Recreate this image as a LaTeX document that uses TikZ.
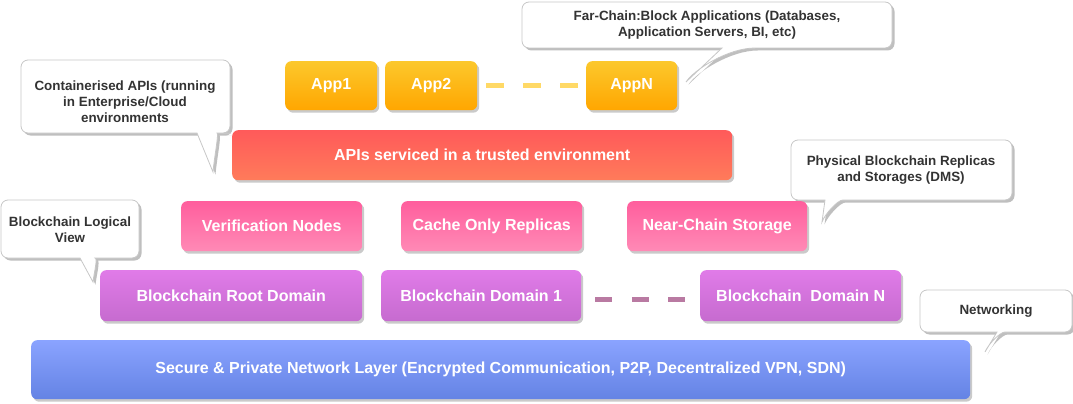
\documentclass[tikz,border=0pt]{standalone}
\usepackage{fontspec}
\setmainfont{Liberation Sans}
\usetikzlibrary{shadows}
\definecolor{appTop}{HTML}{FCC82C}
\definecolor{appBot}{HTML}{FFA600}
\definecolor{apiTop}{HTML}{FF5A5A}
\definecolor{apiBot}{HTML}{FF7B5A}
\definecolor{pinkTop}{HTML}{FF5E9D}
\definecolor{pinkBot}{HTML}{FF8AB6}
\definecolor{purTop}{HTML}{E07BE8}
\definecolor{purBot}{HTML}{C66BCF}
\definecolor{bluTop}{HTML}{8AA3FF}
\definecolor{bluBot}{HTML}{6483E4}
\definecolor{yDash}{HTML}{FFD966}
\definecolor{pDash}{HTML}{B97AA2}
\definecolor{cText}{HTML}{333333}
\newcommand\balloon[8]{%
  \fill[black!25,shift={(2.5pt,-2.5pt)}] (#5,#4) [rounded corners=7pt] -- (#1,#4) -- (#1,#2) -- (#3,#2) -- (#3,#4) -- (#8,#4) [sharp corners] .. controls ({#8-0.45*(#8-#6)},#4) and ({#6+0.1*(#8-#6)},{#7-0.35*(#7-#4)}) .. (#6,#7) -- cycle;
  \filldraw[fill=white,draw=black!22,line width=0.8pt] (#5,#4) [rounded corners=7pt] -- (#1,#4) -- (#1,#2) -- (#3,#2) -- (#3,#4) -- (#8,#4) [sharp corners] .. controls ({#8-0.45*(#8-#6)},#4) and ({#6+0.1*(#8-#6)},{#7-0.35*(#7-#4)}) .. (#6,#7) -- cycle;
}
\tikzset{
  box/.style={rectangle, rounded corners=6pt, anchor=north west, inner sep=0pt,
    text=white, font=\bfseries\fontsize{16}{18}\selectfont,
    drop shadow={shadow xshift=2pt, shadow yshift=-2.5pt, opacity=0.35, fill=black!60}},
  appbox/.style={box, top color=appTop, bottom color=appBot},
  apibox/.style={box, top color=apiTop, bottom color=apiBot},
  pinkbox/.style={box, top color=pinkTop, bottom color=pinkBot},
  purbox/.style={box, top color=purTop, bottom color=purBot},
  blubox/.style={box, top color=bluTop, bottom color=bluBot},
  ctext/.style={align=center, text=cText, inner sep=0pt, font=\bfseries\fontsize{13.4}{16}\selectfont},
  ydashes/.style={draw=yDash, line width=5pt, dash pattern=on 18pt off 19pt},
  pdashes/.style={draw=pDash, line width=5pt, dash pattern=on 17pt off 19.5pt}
}
\begin{document}
\begin{tikzpicture}[x=1pt,y=-1pt]
\useasboundingbox (0,0) rectangle (1073,404);
% callout balloons
\balloon{522}{2}{892}{48}{722}{686}{82}{762}
\balloon{21}{60}{230}{133}{197}{213}{172}{224}
\balloon{791}{140}{1012}{200}{825}{822}{222}{850}
\balloon{1}{200}{139}{258}{80}{93}{282}{102}
\balloon{920}{290}{1072}{332}{997}{985}{352}{1012}
% callout texts
\node[ctext] (farText) at (707,25) {Far-Chain:Block Applications (Databases,\\Application Servers, BI, etc)};
\node[ctext] (contText) at (125,102) {Containerised APIs (running\\in Enterprise/Cloud\\environments};
\node[ctext] (physText) at (901,170) {Physical Blockchain Replicas\\and Storages (DMS)};
\node[ctext] (logicText) at (70,230) {Blockchain Logical\\View};
\node[ctext] (netText) at (996,311) {Networking};
% boxes
\node[appbox, minimum width=92pt, minimum height=49pt] (app1) at (285,61) {App1};
\node[appbox, minimum width=92pt, minimum height=49pt] (app2) at (385,61) {App2};
\node[appbox, minimum width=91pt, minimum height=49pt] (appN) at (586,61) {AppN};
\node[apibox, minimum width=500pt, minimum height=50pt] (apis) at (232,130) {APIs serviced in a trusted environment};
\node[pinkbox, minimum width=181pt, minimum height=50pt] (verif) at (181,201) {Verification Nodes};
\node[pinkbox, minimum width=181pt, minimum height=50pt] (cache) at (401,201) {Cache Only Replicas};
\node[pinkbox, minimum width=180pt, minimum height=50pt] (near) at (627,201) {Near-Chain Storage};
\node[purbox, minimum width=262pt, minimum height=51pt] (root) at (100,270) {Blockchain Root Domain};
\node[purbox, minimum width=200pt, minimum height=51pt] (dom1) at (381,270) {Blockchain Domain 1};
\node[purbox, minimum width=201pt, minimum height=51pt] (domN) at (700,270) {Blockchain\ \ Domain N};
\node[blubox, minimum width=939pt, minimum height=59pt] (net) at (31,340) {Secure \& Private Network Layer (Encrypted Communication, P2P, Decentralized VPN, SDN)};
% dashed links
\draw[ydashes, shorten <=9pt, shorten >=8pt] (app2.east) -- (appN.west);
\draw[pdashes, shorten <=14pt, shorten >=15pt] ([yshift=-4pt]dom1.east) -- ([yshift=-4pt]domN.west);
\end{tikzpicture}
\end{document}
